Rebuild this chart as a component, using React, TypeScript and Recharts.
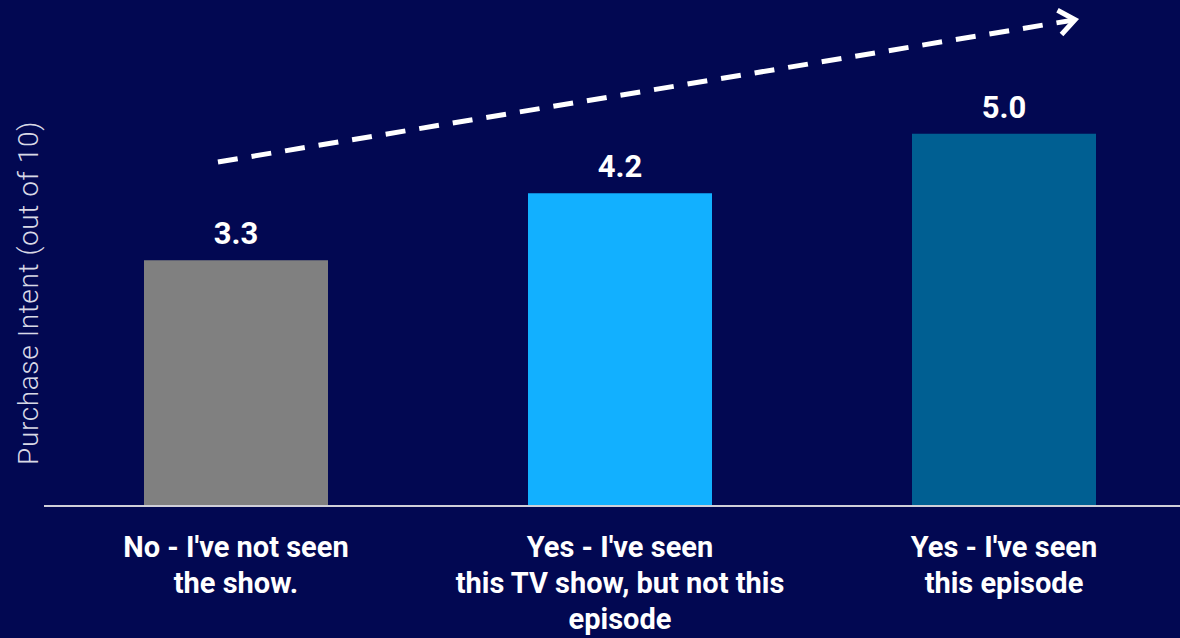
import React from "react";
import { BarChart, Bar, XAxis, YAxis, Cell, LabelList, ReferenceLine } from "recharts";

const categories = ["No - I've not seen\nthe show.", "Yes - I've seen\nthis TV show, but not this\nepisode", "Yes - I've seen\nthis episode"];
const positions = [0.5, 1.5, 2.5];
const values = [3.3, 4.2, 5.0];
const colors = ["#808080", "#12B0FF", "#005F92"];
const yLabel = "Purchase Intent (out of 10)";
const trendStart = { x: 0.453, y: 4.62 };
const trendEnd = { x: 2.685, y: 6.53 };

const data = categories.map((c, i) => ({ name: c, pos: positions[i], value: values[i] }));

const BG = "#020852";
const FONT = "Roboto, 'Noto Sans', sans-serif";

const Tick = (props: any) => {
  const { x, y, payload } = props;
  const lines = String(payload.value).split("\n");
  return (
    <text x={x} y={y} textAnchor="middle" fill="#FFFFFF" fontFamily={FONT} fontWeight={700} fontSize={29}>
      {lines.map((l, i) => (
        <tspan key={i} x={x} dy={i === 0 ? 51 : 36}>{l}</tspan>
      ))}
    </text>
  );
};

const ArrowShape = (props: any) => {
  const { x1, y1, x2, y2 } = props;
  if ([x1, y1, x2, y2].some((v) => typeof v !== "number" || isNaN(v))) return null;
  const ang = Math.atan2(y2 - y1, x2 - x1);
  const len = 20;
  const spread = (38 * Math.PI) / 180;
  const ax1 = x2 - len * Math.cos(ang - spread);
  const ay1 = y2 - len * Math.sin(ang - spread);
  const ax2 = x2 - len * Math.cos(ang + spread);
  const ay2 = y2 - len * Math.sin(ang + spread);
  return (
    <g>
      <line x1={x1} y1={y1} x2={x2 - 4 * Math.cos(ang)} y2={y2 - 4 * Math.sin(ang)} stroke="#FFFFFF" strokeWidth={5} strokeDasharray="20 14" />
      <polyline points={`${ax1},${ay1} ${x2},${y2} ${ax2},${ay2}`} fill="none" stroke="#FFFFFF" strokeWidth={5} strokeLinejoin="miter" />
    </g>
  );
};

const YLabel = () => (
  <text x={28} y={293} transform="rotate(-90, 28, 293)" textAnchor="middle" dominantBaseline="central" fill="#D9D9E6" fontFamily={FONT} fontWeight={300} fontSize={28} letterSpacing={0.6}>
    {yLabel}
  </text>
);

export default function App() {
  return (
    <div style={{ position: "absolute", left: 0, top: 0, width: 1180, height: 638, overflow: "hidden", background: BG }}>
      <BarChart width={1196} height={638} data={data} margin={{ top: 22, right: 0, bottom: 22, left: 0 }} barSize={184}>
        <XAxis dataKey="name" height={110} tickLine={false} tickSize={0} tickMargin={0} axisLine={{ stroke: "#CFCFD8", strokeWidth: 2 }} tick={<Tick />} interval={0} />
        <XAxis xAxisId="arrow" dataKey="pos" type="number" domain={[0, 3]} allowDataOverflow hide />
        <YAxis domain={[0, 6.5]} width={44} axisLine={false} tickLine={false} tick={false} label={<YLabel />} />
        <Bar dataKey="value" isAnimationActive={false}>
          {data.map((d, i) => (
            <Cell key={i} fill={colors[i]} />
          ))}
          <LabelList dataKey="value" position="top" offset={16} formatter={(v: any) => Number(v).toFixed(1)} fill="#FFFFFF" fontFamily={FONT} fontWeight={700} fontSize={31} />
        </Bar>
        <ReferenceLine xAxisId="arrow" segment={[trendStart, trendEnd]} ifOverflow="visible" shape={ArrowShape} />
      </BarChart>
    </div>
  );
}
